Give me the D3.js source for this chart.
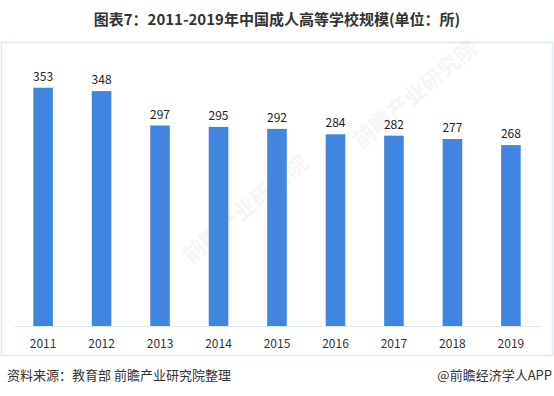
<!DOCTYPE html>
<html>
<head>
<meta charset="utf-8">
<script src="https://cdn.jsdelivr.net/npm/d3@7"></script>
<style>
  body { margin: 0; background: #fff; }
  text { font-family: "Microsoft YaHei", "Noto Sans CJK SC", sans-serif; }
</style>
</head>
<body>
<div id="chart"></div>
<script>
// 数据
const years = ['2011', '2012', '2013', '2014', '2015', '2016', '2017', '2018', '2019'];
const counts = [353, 348, 297, 295, 292, 284, 282, 277, 268];
const titleText = '图表7：2011-2019年中国成人高等学校规模(单位：所)';
const sourceText = '资料来源：教育部 前瞻产业研究院整理';
const brandText = '@前瞻经济学人APP';

const width = 554, height = 396;
const margin = { top: 56, left: 14, bottom: 70, right: 14 };

const svg = d3.select('#chart').append('svg')
    .attr('width', width)
    .attr('height', height);

// 外框
svg.append('rect')
    .attr('x', 1.5).attr('y', 42.5)
    .attr('width', 551).attr('height', 313)
    .attr('fill', 'none')
    .attr('stroke', '#dbe8f6')
    .attr('stroke-width', 1.5);

// 水印
const marks = [[250, 215], [420, 100]];
svg.append('g').selectAll('text.wm')
    .data(marks)
    .join('text')
    .attr('class', 'wm')
    .attr('transform', d => `translate(${d[0]},${d[1]}) rotate(-40)`)
    .attr('text-anchor', 'middle')
    .attr('font-size', 22)
    .attr('font-weight', 'bold')
    .attr('fill', '#000')
    .attr('opacity', 0.035)
    .text('前瞻产业研究院');

// 比例尺
const x = d3.scaleBand()
    .domain(years)
    .range([margin.left, width - margin.right])
    .paddingInner(0.665)
    .paddingOuter(0.33);
const y = d3.scaleLinear()
    .domain([0, 400])
    .range([height - margin.bottom, margin.top]);

// 标题
svg.append('text')
    .attr('x', width / 2)
    .attr('y', 25)
    .attr('text-anchor', 'middle')
    .attr('font-size', 15)
    .attr('font-weight', 'bold')
    .attr('fill', '#333')
    .text(titleText);

// x轴
const xAxis = g => g
    .attr('transform', `translate(0,${height - margin.bottom})`)
    .call(d3.axisBottom(x).tickSize(0).tickPadding(13))
    .call(g => g.select('.domain').attr('stroke', '#dce8f5'))
    .call(g => g.selectAll('text')
        .attr('font-size', 12)
        .attr('fill', '#333')
        .style('font-family', '"Microsoft YaHei", "Noto Sans CJK SC", sans-serif'));
svg.append('g').call(xAxis);

// 柱子
svg.selectAll('rect.bar')
    .data(counts)
    .join('rect')
    .classed('bar', true)
    .attr('x', (d, i) => x(years[i]))
    .attr('y', d => y(d))
    .attr('width', x.bandwidth())
    .attr('height', d => y(0) - y(d))
    .attr('fill', '#4086e0');

// 数值标签
svg.selectAll('text.val')
    .data(counts)
    .join('text')
    .classed('val', true)
    .attr('x', (d, i) => x(years[i]) + x.bandwidth() / 2)
    .attr('y', d => y(d) - 7)
    .attr('text-anchor', 'middle')
    .attr('font-size', 12)
    .attr('fill', '#222')
    .text(d => d);

// 底部说明
svg.append('text')
    .attr('x', 7)
    .attr('y', 380)
    .attr('font-size', 13)
    .attr('fill', '#333')
    .text(sourceText);
svg.append('text')
    .attr('x', 552)
    .attr('y', 380)
    .attr('text-anchor', 'end')
    .attr('font-size', 13)
    .attr('fill', '#333')
    .text(brandText);
</script>
</body>
</html>
